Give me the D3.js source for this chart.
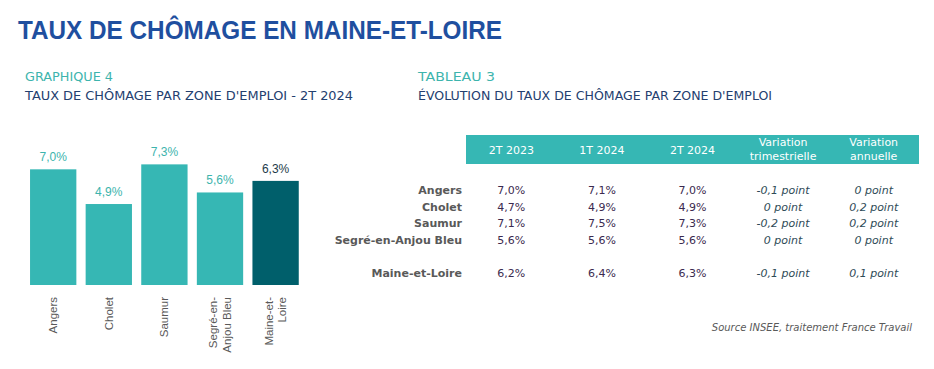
<!DOCTYPE html>
<html>
<head>
<meta charset="utf-8">
<script src="https://cdn.jsdelivr.net/npm/d3@7"></script>
<style>
  body { margin: 0; background: #fff; }
</style>
</head>
<body>
<script>
// bar chart data
let zones = ["Angers", "Cholet", "Saumur", "Segré-en-Anjou Bleu", "Maine-et-Loire"];
let zoneLabels = [["Angers"], ["Cholet"], ["Saumur"], ["Segré-en-", "Anjou Bleu"], ["Maine-et-", "Loire"]];
let rate2T2024 = [7.0, 4.9, 7.3, 5.6, 6.3];

// table data
let columns = ["2T 2023", "1T 2024", "2T 2024", "Variation trimestrielle", "Variation annuelle"];
let columnLabels = [["2T 2023"], ["1T 2024"], ["2T 2024"], ["Variation", "trimestrielle"], ["Variation", "annuelle"]];
let rows = ["Angers", "Cholet", "Saumur", "Segré-en-Anjou Bleu", "", "Maine-et-Loire"];
let rate2T2023 = [7.0, 4.7, 7.1, 5.6, null, 6.2];
let rate1T2024 = [7.1, 4.9, 7.5, 5.6, null, 6.4];
let rate2T2024tab = [7.0, 4.9, 7.3, 5.6, null, 6.3];
let varTrim = [-0.1, 0, -0.2, 0, null, -0.1];
let varAnn = [0, 0.2, 0.2, 0, null, 0.1];

let width = 934,
	height = 369;

let svg = d3.select("body")
	.append("svg")
	.attr("width", width)
	.attr("height", height)
	.attr("font-family", "'DejaVu Sans', Verdana, sans-serif");

let teal = "#36b7b4",
	darkTeal = "#005f6b",
	navy = "#24406f";

// headings
svg.append("text")
	.attr("x", 18).attr("y", 39)
	.attr("font-family", "'Liberation Sans Narrow', 'Liberation Sans', Arial, sans-serif")
	.attr("font-weight", "bold")
	.attr("font-size", 26)
	.attr("textLength", 484)
	.attr("lengthAdjust", "spacingAndGlyphs")
	.attr("fill", "#1f4f9f")
	.text("TAUX DE CHÔMAGE EN MAINE-ET-LOIRE");

let heads = [
	{x: 25, t1: "GRAPHIQUE 4", w1: 88, t2: "TAUX DE CHÔMAGE PAR ZONE D'EMPLOI - 2T 2024", w2: 328},
	{x: 418, t1: "TABLEAU 3", w1: 77, t2: "ÉVOLUTION DU TAUX DE CHÔMAGE PAR ZONE D'EMPLOI", w2: 354}
];
heads.forEach(function(h) {
	svg.append("text")
		.attr("x", h.x).attr("y", 81)
		.attr("font-size", 12.5)
		.attr("textLength", h.w1)
		.attr("lengthAdjust", "spacingAndGlyphs")
		.attr("fill", "#3db4ad")
		.text(h.t1);
	svg.append("text")
		.attr("x", h.x).attr("y", 100)
		.attr("font-size", 11.5)
		.attr("textLength", h.w2)
		.attr("lengthAdjust", "spacingAndGlyphs")
		.attr("fill", navy)
		.text(h.t2);
});

// bar chart
let x = d3.scaleBand()
	.domain(zones)
	.range([25.4, 303.4])
	.paddingInner(0.167)
	.paddingOuter(0.0835);

let y = d3.scaleLinear()
	.domain([0, 8])
	.range([285, 152.8]);

let fmt = function(v) { return d3.format(".1f")(v).replace(".", ",") + "%"; };

let bars = svg.append("g").selectAll("g")
	.data(zones.map(function(z, i) { return {zone: z, value: rate2T2024[i], lines: zoneLabels[i]}; }))
	.enter().append("g");

bars.append("rect")
	.attr("x", function(d) { return x(d.zone); })
	.attr("y", function(d) { return y(d.value); })
	.attr("width", x.bandwidth())
	.attr("height", function(d) { return y(0) - y(d.value); })
	.attr("fill", function(d, i) { return i === zones.length - 1 ? darkTeal : teal; });

bars.append("text")
	.attr("x", function(d) { return x(d.zone) + x.bandwidth() / 2; })
	.attr("y", function(d) { return y(d.value) - 8; })
	.attr("text-anchor", "middle")
	.attr("font-family", "'Liberation Sans', Arial, sans-serif")
	.attr("font-size", 12)
	.attr("fill", function(d, i) { return i === zones.length - 1 ? "#1d3b4a" : "#3db4ad"; })
	.text(function(d) { return fmt(d.value); });

bars.each(function(d) {
	let cx = x(d.zone) + x.bandwidth() / 2;
	let n = d.lines.length;
	d3.select(this).selectAll("text.lab")
		.data(d.lines)
		.enter().append("text")
		.attr("class", "lab")
		.attr("transform", function(l, i) {
			let lx = cx + 4 + (i - (n - 1) / 2) * 13.5;
			return "translate(" + lx + "," + (y(0) + 12) + ") rotate(-90)";
		})
		.attr("text-anchor", "end")
		.attr("font-family", "'Liberation Sans', Arial, sans-serif")
		.attr("font-size", 11.5)
		.attr("fill", "#595959")
		.text(function(l) { return l; });
});

// table
let col = d3.scaleBand()
	.domain(columns)
	.range([466, 919]);

let rowY = d3.scalePoint()
	.domain(d3.range(rows.length))
	.range([194, 277.3]);

svg.append("rect")
	.attr("x", col.range()[0])
	.attr("y", 135)
	.attr("width", col.range()[1] - col.range()[0])
	.attr("height", 29)
	.attr("fill", teal);

columns.forEach(function(c, i) {
	let lines = columnLabels[i];
	let t = svg.append("text")
		.attr("text-anchor", "middle")
		.attr("font-size", 11)
		.attr("fill", "#fff");
	lines.forEach(function(l, j) {
		t.append("tspan")
			.attr("x", col(c) + col.bandwidth() / 2)
			.attr("y", lines.length === 1 ? 153.5 : 146 + j * 14)
			.text(l);
	});
});

let cellFmt = function(v) { return d3.format(".1f")(v).replace(".", ",") + "%"; };
let ptFmt = function(v) { return (v === 0 ? "0" : d3.format(".1f")(v).replace(".", ",").replace("−", "-")) + " point"; };

rows.forEach(function(r, i) {
	if (!r) return;
	let ry = rowY(i);
	svg.append("text")
		.attr("x", 462).attr("y", ry)
		.attr("text-anchor", "end")
		.attr("font-size", 11)
		.attr("font-weight", "bold")
		.attr("fill", "#595959")
		.text(r);
	let vals = [cellFmt(rate2T2023[i]), cellFmt(rate1T2024[i]), cellFmt(rate2T2024tab[i]), ptFmt(varTrim[i]), ptFmt(varAnn[i])];
	vals.forEach(function(v, j) {
		svg.append("text")
			.attr("x", col(columns[j]) + col.bandwidth() / 2)
			.attr("y", ry)
			.attr("text-anchor", "middle")
			.attr("font-size", 11)
			.attr("font-style", j >= 3 ? "italic" : "normal")
			.attr("fill", j >= 3 ? "#2f4b57" : "#3b2a4f")
			.text(v);
	});
});

svg.append("text")
	.attr("x", 912).attr("y", 331)
	.attr("text-anchor", "end")
	.attr("font-size", 10)
	.attr("font-style", "italic")
	.attr("fill", "#595959")
	.text("Source INSEE, traitement France Travail");
</script>
</body>
</html>
